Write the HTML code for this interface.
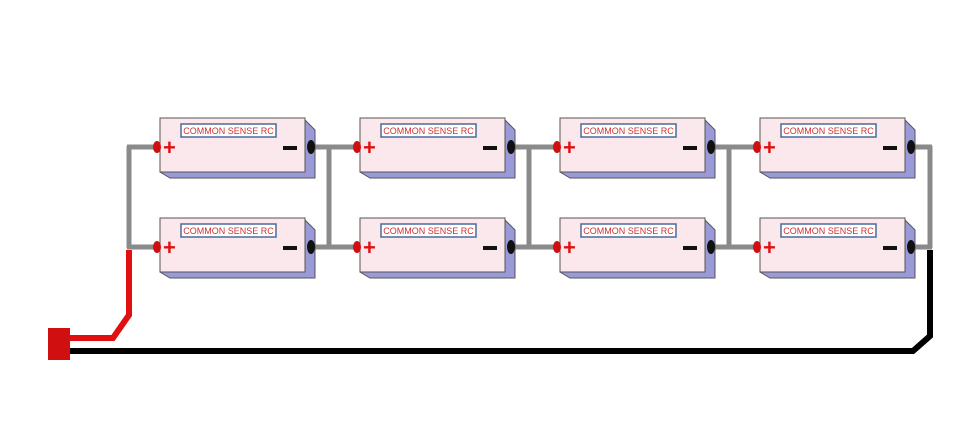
<!DOCTYPE html>
<html><head><style>body{margin:0;background:#fff}svg{display:block}</style></head><body>
<svg width="965" height="443" viewBox="0 0 965 443" xmlns="http://www.w3.org/2000/svg" font-family="Liberation Sans, sans-serif">
<g stroke="#8a8a8a" stroke-width="5" fill="none">
<line x1="129" y1="146" x2="129" y2="248"/><line x1="329" y1="146" x2="329" y2="248"/><line x1="529" y1="146" x2="529" y2="248"/><line x1="729" y1="146" x2="729" y2="248"/><line x1="930" y1="146" x2="930" y2="248"/>
<line x1="127" y1="147" x2="158" y2="147"/><line x1="312" y1="147" x2="358" y2="147"/><line x1="512" y1="147" x2="558" y2="147"/><line x1="712" y1="147" x2="758" y2="147"/><line x1="912" y1="147" x2="932" y2="147"/>
<line x1="127" y1="247" x2="158" y2="247"/><line x1="312" y1="247" x2="358" y2="247"/><line x1="512" y1="247" x2="558" y2="247"/><line x1="712" y1="247" x2="758" y2="247"/><line x1="912" y1="247" x2="932" y2="247"/>
</g>
<polyline points="129,250 129,315 113,338 68,338" stroke="#e01010" stroke-width="6" fill="none"/>
<rect x="48" y="328" width="22" height="32" fill="#d01010"/>
<polyline points="70,351 913,351 930,336 930,250" stroke="#000" stroke-width="6" fill="none"/>
<defs></defs>
<g id="b">
</g>
<g transform="translate(160,118)"><polygon points="0,0 143,0 155,12 155,60 10,60 0,54" fill="#9a9ad8" stroke="#555"/><rect x="0" y="0" width="145" height="54" fill="#fbe8ec" stroke="#555"/><rect x="21" y="6" width="95" height="13" fill="#fff" stroke="#4a6a9a" stroke-width="1.5"/><text x="68.5" y="16" font-size="9" fill="#d03030" text-anchor="middle">COMMON SENSE RC</text><text x="3" y="37" font-size="22" font-weight="bold" fill="#e01010">+</text><rect x="123" y="28" width="14" height="4" fill="#111"/><ellipse cx="-3" cy="29" rx="4" ry="6" fill="#d01010"/><ellipse cx="151" cy="29" rx="4" ry="7" fill="#111"/></g>
<g transform="translate(360,118)"><polygon points="0,0 143,0 155,12 155,60 10,60 0,54" fill="#9a9ad8" stroke="#555"/><rect x="0" y="0" width="145" height="54" fill="#fbe8ec" stroke="#555"/><rect x="21" y="6" width="95" height="13" fill="#fff" stroke="#4a6a9a" stroke-width="1.5"/><text x="68.5" y="16" font-size="9" fill="#d03030" text-anchor="middle">COMMON SENSE RC</text><text x="3" y="37" font-size="22" font-weight="bold" fill="#e01010">+</text><rect x="123" y="28" width="14" height="4" fill="#111"/><ellipse cx="-3" cy="29" rx="4" ry="6" fill="#d01010"/><ellipse cx="151" cy="29" rx="4" ry="7" fill="#111"/></g>
<g transform="translate(560,118)"><polygon points="0,0 143,0 155,12 155,60 10,60 0,54" fill="#9a9ad8" stroke="#555"/><rect x="0" y="0" width="145" height="54" fill="#fbe8ec" stroke="#555"/><rect x="21" y="6" width="95" height="13" fill="#fff" stroke="#4a6a9a" stroke-width="1.5"/><text x="68.5" y="16" font-size="9" fill="#d03030" text-anchor="middle">COMMON SENSE RC</text><text x="3" y="37" font-size="22" font-weight="bold" fill="#e01010">+</text><rect x="123" y="28" width="14" height="4" fill="#111"/><ellipse cx="-3" cy="29" rx="4" ry="6" fill="#d01010"/><ellipse cx="151" cy="29" rx="4" ry="7" fill="#111"/></g>
<g transform="translate(760,118)"><polygon points="0,0 143,0 155,12 155,60 10,60 0,54" fill="#9a9ad8" stroke="#555"/><rect x="0" y="0" width="145" height="54" fill="#fbe8ec" stroke="#555"/><rect x="21" y="6" width="95" height="13" fill="#fff" stroke="#4a6a9a" stroke-width="1.5"/><text x="68.5" y="16" font-size="9" fill="#d03030" text-anchor="middle">COMMON SENSE RC</text><text x="3" y="37" font-size="22" font-weight="bold" fill="#e01010">+</text><rect x="123" y="28" width="14" height="4" fill="#111"/><ellipse cx="-3" cy="29" rx="4" ry="6" fill="#d01010"/><ellipse cx="151" cy="29" rx="4" ry="7" fill="#111"/></g>
<g transform="translate(160,218)"><polygon points="0,0 143,0 155,12 155,60 10,60 0,54" fill="#9a9ad8" stroke="#555"/><rect x="0" y="0" width="145" height="54" fill="#fbe8ec" stroke="#555"/><rect x="21" y="6" width="95" height="13" fill="#fff" stroke="#4a6a9a" stroke-width="1.5"/><text x="68.5" y="16" font-size="9" fill="#d03030" text-anchor="middle">COMMON SENSE RC</text><text x="3" y="37" font-size="22" font-weight="bold" fill="#e01010">+</text><rect x="123" y="28" width="14" height="4" fill="#111"/><ellipse cx="-3" cy="29" rx="4" ry="6" fill="#d01010"/><ellipse cx="151" cy="29" rx="4" ry="7" fill="#111"/></g>
<g transform="translate(360,218)"><polygon points="0,0 143,0 155,12 155,60 10,60 0,54" fill="#9a9ad8" stroke="#555"/><rect x="0" y="0" width="145" height="54" fill="#fbe8ec" stroke="#555"/><rect x="21" y="6" width="95" height="13" fill="#fff" stroke="#4a6a9a" stroke-width="1.5"/><text x="68.5" y="16" font-size="9" fill="#d03030" text-anchor="middle">COMMON SENSE RC</text><text x="3" y="37" font-size="22" font-weight="bold" fill="#e01010">+</text><rect x="123" y="28" width="14" height="4" fill="#111"/><ellipse cx="-3" cy="29" rx="4" ry="6" fill="#d01010"/><ellipse cx="151" cy="29" rx="4" ry="7" fill="#111"/></g>
<g transform="translate(560,218)"><polygon points="0,0 143,0 155,12 155,60 10,60 0,54" fill="#9a9ad8" stroke="#555"/><rect x="0" y="0" width="145" height="54" fill="#fbe8ec" stroke="#555"/><rect x="21" y="6" width="95" height="13" fill="#fff" stroke="#4a6a9a" stroke-width="1.5"/><text x="68.5" y="16" font-size="9" fill="#d03030" text-anchor="middle">COMMON SENSE RC</text><text x="3" y="37" font-size="22" font-weight="bold" fill="#e01010">+</text><rect x="123" y="28" width="14" height="4" fill="#111"/><ellipse cx="-3" cy="29" rx="4" ry="6" fill="#d01010"/><ellipse cx="151" cy="29" rx="4" ry="7" fill="#111"/></g>
<g transform="translate(760,218)"><polygon points="0,0 143,0 155,12 155,60 10,60 0,54" fill="#9a9ad8" stroke="#555"/><rect x="0" y="0" width="145" height="54" fill="#fbe8ec" stroke="#555"/><rect x="21" y="6" width="95" height="13" fill="#fff" stroke="#4a6a9a" stroke-width="1.5"/><text x="68.5" y="16" font-size="9" fill="#d03030" text-anchor="middle">COMMON SENSE RC</text><text x="3" y="37" font-size="22" font-weight="bold" fill="#e01010">+</text><rect x="123" y="28" width="14" height="4" fill="#111"/><ellipse cx="-3" cy="29" rx="4" ry="6" fill="#d01010"/><ellipse cx="151" cy="29" rx="4" ry="7" fill="#111"/></g>
</svg>
</body></html>
